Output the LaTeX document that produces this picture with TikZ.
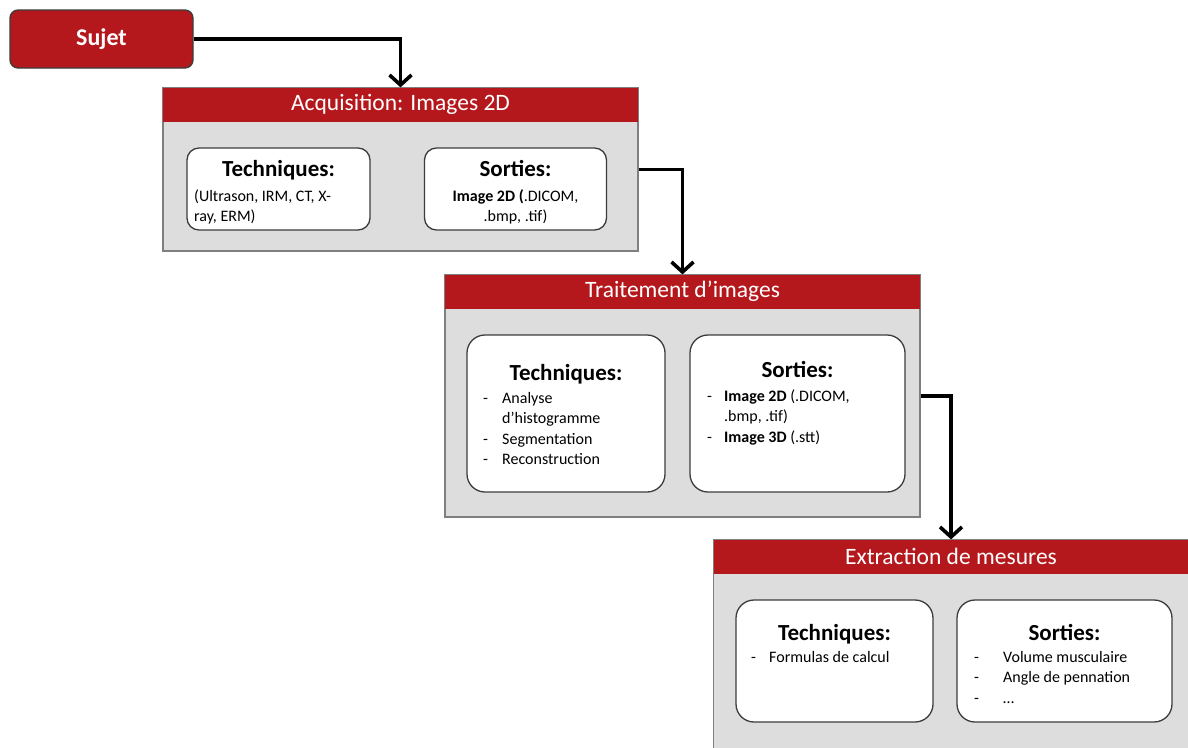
\documentclass[tikz,border=0pt]{standalone}
\usepackage{fontspec}
\setmainfont{Carlito}
\usepackage{xcolor}
\usetikzlibrary{arrows.meta}
\definecolor{headred}{HTML}{B5181C}
\definecolor{panelgray}{HTML}{DDDDDD}
\definecolor{panelline}{HTML}{7F7F7F}
\definecolor{boxline}{HTML}{3C3C3C}

\begin{document}
\begin{tikzpicture}[x=1pt, y=-1pt,
      panel/.style={draw=panelline, fill=panelgray, line width=1.2pt,
        minimum width=475pt, inner sep=0pt},
      head/.style={fill=headred, text=white, minimum width=475pt,
        minimum height=34pt, inner sep=0pt, anchor=north,
        font=\fontsize{23.5}{28}\selectfont},
      card/.style={draw=boxline, fill=white, line width=1.3pt,
        rounded corners=18pt, inner sep=0pt},
      title/.style={anchor=base, inner sep=0pt,
        font=\bfseries\fontsize{23}{27}\selectfont},
      items/.style={anchor=base west, inner sep=0pt,
        font=\fontsize{16}{20.5}\selectfont},
      flow/.style={-{Straight Barb[length=10pt,width=22pt]}, line width=3.6pt}]
    \clip (0,0) rectangle (1188,747);
    \fill[white] (0,0) rectangle (1188,747);
    \node[draw=boxline, fill=headred, line width=1.3pt, rounded corners=8pt,
      minimum width=183pt, minimum height=58pt, text=white,
      font=\bfseries\fontsize{24}{28}\selectfont] (sujet) at (101.5,39) {Sujet};

    \node[panel, minimum height=163pt] (acq) at (400.5,169.5) {};
    \node[head] (acqhead) at (acq.north) {Acquisition: Images 2D};
    \node[card, rounded corners=12pt, minimum width=183pt,
      minimum height=82pt] (acqtech) at (278.5,189) {};
    \node[card, rounded corners=12pt, minimum width=182pt,
      minimum height=82pt] (acqsort) at (515.5,189) {};
    \node[title] (acqtechtitle) at (278.5,176) {Techniques:};
    \node[items] (acqtechlist) at (194,201)
      {\begin{tabular}[t]{@{}l@{}}(Ultrason, IRM, CT, X-\\ray, ERM)\end{tabular}};
    \node[title] (acqsorttitle) at (515.5,176) {Sorties:};
    \node[items, anchor=base] (acqsortlist) at (515.5,201)
      {\begin{tabular}[t]{@{}c@{}}\textbf{Image 2D (}.DICOM,\\.bmp, .tif)\end{tabular}};

    \node[panel, minimum height=242pt] (trt) at (682.5,396) {};
    \node[head] (trthead) at (trt.north) {Traitement d’images};
    \node[card, minimum width=198pt, minimum height=157pt] (trttech) at (566,413.5) {};
    \node[card, minimum width=215pt, minimum height=157pt] (trtsort) at (797.5,413.5) {};
    \node[title] (trttechtitle) at (566,380) {Techniques:};
    \node[items] (trttechlist) at (483,403)
      {\begin{tabular}[t]{@{}p{19pt}@{}l@{}}
        -&Analyse\\&d’histogramme\\-&Segmentation\\-&Reconstruction
      \end{tabular}};
    \node[title] (trtsorttitle) at (797.5,377) {Sorties:};
    \node[items] (trtsortlist) at (707,401)
      {\begin{tabular}[t]{@{}p{17pt}@{}l@{}}
        -&\textbf{Image 2D} (.DICOM,\\&.bmp, .tif)\\-&\textbf{Image 3D} (.stt)
      \end{tabular}};

    \node[panel, minimum height=250pt] (ext) at (951,665) {};
    \node[head] (exthead) at (ext.north) {Extraction de mesures};
    \node[card, minimum width=197pt, minimum height=122pt] (exttech) at (834.5,661) {};
    \node[card, minimum width=215pt, minimum height=122pt] (extsort) at (1064.5,661) {};
    \node[title] (exttechtitle) at (834.5,640) {Techniques:};
    \node[items] (exttechlist) at (751,662)
      {\begin{tabular}[t]{@{}p{18pt}@{}l@{}}-&Formulas de calcul\end{tabular}};
    \node[title] (extsorttitle) at (1064.5,640) {Sorties:};
    \node[items] (extsortlist) at (974,662)
      {\begin{tabular}[t]{@{}p{29pt}@{}l@{}}
        -&Volume musculaire\\-&Angle de pennation\\-&…
      \end{tabular}};

    \draw[flow] (sujet.east) -| (acq.north);
    \draw[flow] (acq.east) -| (trt.north);
    \draw[flow] (trt.east) -| (ext.north);
  \end{tikzpicture}
\end{document}
